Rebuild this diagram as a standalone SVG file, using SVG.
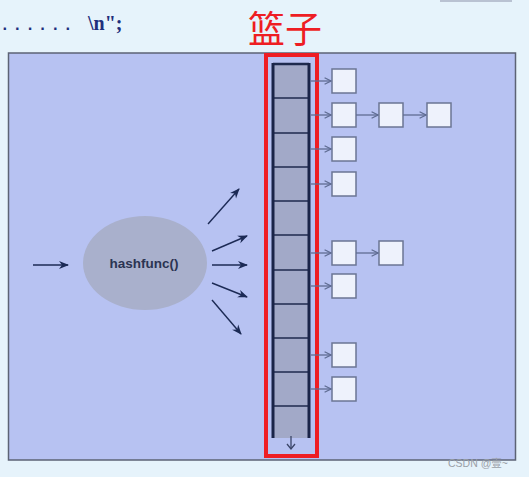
<svg xmlns="http://www.w3.org/2000/svg" width="529" height="477" viewBox="0 0 529 477">
<defs>
<style>
.node{fill:#eef2fc;stroke:#6b7594;stroke-width:1.5}
.link{stroke:#5f6c92;stroke-width:1.3;fill:none;marker-end:url(#open)}
.hash{stroke:#1c2a55;stroke-width:1.4;fill:none;marker-end:url(#solid)}
.cellline{stroke:#1e2a4e;stroke-width:1.5}
</style>
<marker id="open" viewBox="0 0 10 10" refX="9" refY="5" markerWidth="8" markerHeight="8" markerUnits="userSpaceOnUse" orient="auto">
<path d="M1,1 L9,5 L1,9" fill="none" stroke="#5f6c92" stroke-width="1.6"/>
</marker>
<marker id="solid" viewBox="0 0 10 10" refX="9" refY="5" markerWidth="10" markerHeight="10" markerUnits="userSpaceOnUse" orient="auto">
<path d="M0,1 L10,5 L0,9 L3,5 Z" fill="#1c2a55"/>
</marker>
</defs>
<rect width="529" height="477" fill="#e6f3fb"/>
<rect x="440" y="0" width="72" height="2" fill="#b9c2d2"/>
<text x="0" y="30" font-family="Liberation Mono, monospace" font-weight="bold" font-size="16" fill="#1f2f7c" letter-spacing="3">......</text>
<text x="88" y="30" font-family="Liberation Serif, serif" font-weight="bold" font-size="20" fill="#1f2f7c">\n";</text>
<g id="panel">
<rect x="8.5" y="53" width="507" height="407" fill="#b7c2f2" stroke="#5c6375" stroke-width="1.5"/>
</g>
<text x="248" y="43" font-family="Noto Sans CJK SC, sans-serif" font-size="37" fill="#ee1d23">篮子</text>
<g id="buckets">
<rect x="273" y="63" width="36" height="375" fill="#a2a9c8"/>
<g class="cellline">
<line x1="273" y1="64" x2="309" y2="64" stroke-width="2.5"/>
<line x1="273" y1="98" x2="309" y2="98"/>
<line x1="273" y1="133" x2="309" y2="133"/>
<line x1="273" y1="167" x2="309" y2="167"/>
<line x1="273" y1="201" x2="309" y2="201"/>
<line x1="273" y1="235" x2="309" y2="235"/>
<line x1="273" y1="270" x2="309" y2="270"/>
<line x1="273" y1="304" x2="309" y2="304"/>
<line x1="273" y1="338" x2="309" y2="338"/>
<line x1="273" y1="372" x2="309" y2="372"/>
<line x1="273" y1="406" x2="309" y2="406"/>
</g>
<line x1="273" y1="63" x2="273" y2="438" stroke="#1a2448" stroke-width="3"/>
<line x1="309" y1="63" x2="309" y2="438" stroke="#1a2448" stroke-width="3"/>
<line x1="291" y1="436" x2="291" y2="448" stroke="#3a4568" stroke-width="1.3"/>
<path d="M287,444 L291,449 L295,444" fill="none" stroke="#3a4568" stroke-width="1.3"/>
</g>
<rect id="basket" x="266" y="55" width="51" height="401" fill="none" stroke="#ee1d23" stroke-width="4"/>
<g id="hashfunc">
<ellipse cx="145" cy="263" rx="62" ry="47" fill="#a9b0cc"/>
<text x="144" y="268" text-anchor="middle" font-family="Liberation Sans, Arial, sans-serif" font-weight="bold" font-size="13.5" fill="#2b3452">hashfunc()</text>
</g>
<g id="nodes">
<rect class="node" x="332" y="69" width="24" height="24"/>
<rect class="node" x="332" y="103" width="24" height="24"/>
<rect class="node" x="379" y="103" width="24" height="24"/>
<rect class="node" x="427" y="103" width="24" height="24"/>
<rect class="node" x="332" y="137" width="24" height="24"/>
<rect class="node" x="332" y="172" width="24" height="24"/>
<rect class="node" x="332" y="241" width="24" height="24"/>
<rect class="node" x="379" y="241" width="24" height="24"/>
<rect class="node" x="332" y="274" width="24" height="24"/>
<rect class="node" x="332" y="343" width="24" height="24"/>
<rect class="node" x="332" y="377" width="24" height="24"/>
</g>
<g id="connectors">
<line class="link" x1="311" y1="81" x2="331" y2="81"/>
<line class="link" x1="311" y1="115" x2="331" y2="115"/>
<line class="link" x1="356" y1="115" x2="378" y2="115"/>
<line class="link" x1="403" y1="115" x2="426" y2="115"/>
<line class="link" x1="311" y1="149" x2="331" y2="149"/>
<line class="link" x1="311" y1="184" x2="331" y2="184"/>
<line class="link" x1="311" y1="253" x2="331" y2="253"/>
<line class="link" x1="356" y1="253" x2="378" y2="253"/>
<line class="link" x1="311" y1="286" x2="331" y2="286"/>
<line class="link" x1="311" y1="355" x2="331" y2="355"/>
<line class="link" x1="311" y1="389" x2="331" y2="389"/>
<line class="hash" x1="33" y1="265" x2="68" y2="265"/>
<line class="hash" x1="208" y1="224" x2="239" y2="189"/>
<line class="hash" x1="212" y1="251" x2="247" y2="236"/>
<line class="hash" x1="212" y1="265" x2="247" y2="265"/>
<line class="hash" x1="212" y1="283" x2="247" y2="297"/>
<line class="hash" x1="212" y1="300" x2="241" y2="334"/>
</g>
<text x="448" y="467" font-family="Liberation Sans, Noto Sans CJK SC, sans-serif" font-size="10.5" fill="#9aa0a8">CSDN @壹~</text>
</svg>
